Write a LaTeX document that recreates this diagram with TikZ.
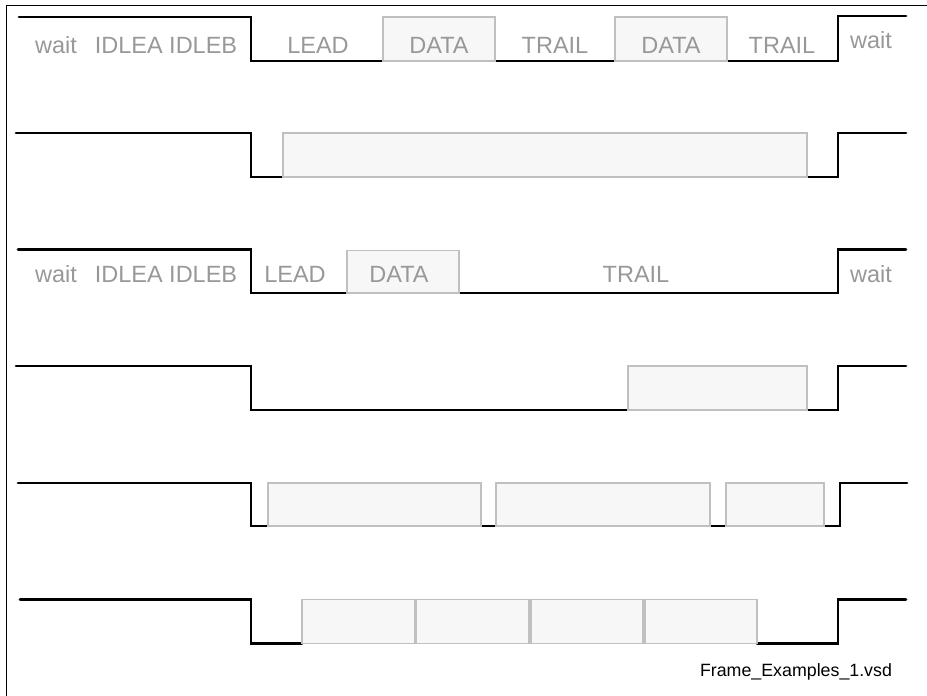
\documentclass[tikz,border=0pt]{standalone}
\usepackage{fontspec}
\setmainfont{Liberation Sans}
\usepackage{tikz}
\usetikzlibrary{calc}

\definecolor{lblgray}{RGB}{152,152,152}
\definecolor{frmfill}{RGB}{247,247,247}
\definecolor{frmline}{RGB}{192,192,192}

\begin{document}
\begin{tikzpicture}[x=1pt,y=-1pt,
    sig/.style={line width=2.8pt,line cap=round,line join=miter},
    frm/.style={draw=frmline,fill=frmfill,line width=1.5pt,inner sep=0pt,minimum height=44pt},
    lbl/.style={text=lblgray,anchor=base,inner sep=0pt,font=\fontsize{23.5}{28}\selectfont}]
  \useasboundingbox (0,0) rectangle (927,696);
  % outer frame, only left and top edges show
  \draw[line width=1pt] (6,696) -- (6,5) -- (927,5);
  % Row 1: LEAD, DATA, TRAIL, DATA, TRAIL
  \draw[sig] (19,17) -- (251,17) -- (251,61) -- (383,61);
  \draw[sig] (495,61) -- (615,61);
  \draw[sig] (727,61) -- (838,61) -- (838,16) -- (906,16);
  \foreach \a/\b [count=\i] in {383/495,615/727}{
    \node[frm,minimum width={\b-\a}] (ra\i) at ({(\a+\b)/2},39) {};
  }
  \node[lbl] (ra-wait) at (56,53) {wait};
  \node[lbl] (ra-idle) at (166,53) {IDLEA IDLEB};
  \node[lbl] (ra-lead) at (318,53) {LEAD};
  \node[lbl] (ra-d1) at (439,53) {DATA};
  \node[lbl] (ra-t1) at (555,53) {TRAIL};
  \node[lbl] (ra-d2) at (671,53) {DATA};
  \node[lbl] (ra-t2) at (782,53) {TRAIL};
  \node[lbl] (ra-end) at (871,48.5) {wait};
  % Row 2: one long frame
  \draw[sig] (16,133) -- (251,133) -- (251,177) -- (283,177);
  \draw[sig] (807,177) -- (838,177) -- (838,133) -- (906,133);
  \node[frm,minimum width=524] (rb1) at (545,155) {};
  % Row 3: LEAD, short DATA, long TRAIL
  \draw[sig] (18,249.5) -- (251,249.5) -- (251,293) -- (347,293);
  \draw[sig] (459,293) -- (838,293) -- (838,249.5) -- (906,249.5);
  \node[frm,minimum width=112,minimum height=42.5pt] (rc1) at (403,271.75) {};
  \node[lbl] (rc-wait) at (56,282) {wait};
  \node[lbl] (rc-idle) at (166,282) {IDLEA IDLEB};
  \node[lbl] (rc-lead) at (295,282) {LEAD};
  \node[lbl] (rc-d1) at (399,282) {DATA};
  \node[lbl] (rc-t1) at (636,282) {TRAIL};
  \node[lbl] (rc-end) at (871,282) {wait};
  % Row 4: late frame
  \draw[sig] (16,366) -- (251,366) -- (251,410) -- (628,410);
  \draw[sig] (807,410) -- (838,410) -- (838,366) -- (906,366);
  \node[frm,minimum width=179] (rd1) at (717.5,388) {};
  % Row 5: three frames with gaps
  \draw[sig] (18,483) -- (251,483) -- (251,526) -- (268,526);
  \draw[sig] (481,526) -- (496,526);
  \draw[sig] (710,526) -- (726,526);
  \draw[sig] (824,526) -- (840,526) -- (840,483) -- (907,483);
  \foreach \a/\b [count=\i] in {268/481,496/710,726/824}{
    \node[frm,minimum width={\b-\a},minimum height=43pt] (re\i) at ({(\a+\b)/2},504.5) {};
  }
  % Row 6: four frames back to back
  \draw[sig] (20,599.5) -- (251,599.5) -- (251,643.5) -- (302,643.5);
  \draw[sig] (757,643.5) -- (838,643.5) -- (838,599.5) -- (906,599.5);
  \foreach \a/\b [count=\i] in {302/415,416/529,531/643,645/757}{
    \node[frm,minimum width={\b-\a}] (rf\i) at ({(\a+\b)/2},621.5) {};
  }
  \node[anchor=base,inner sep=0pt,font=\fontsize{17.8}{21}\selectfont] (fname) at (796,676) {Frame\_Examples\_1.vsd};
\end{tikzpicture}
\end{document}
